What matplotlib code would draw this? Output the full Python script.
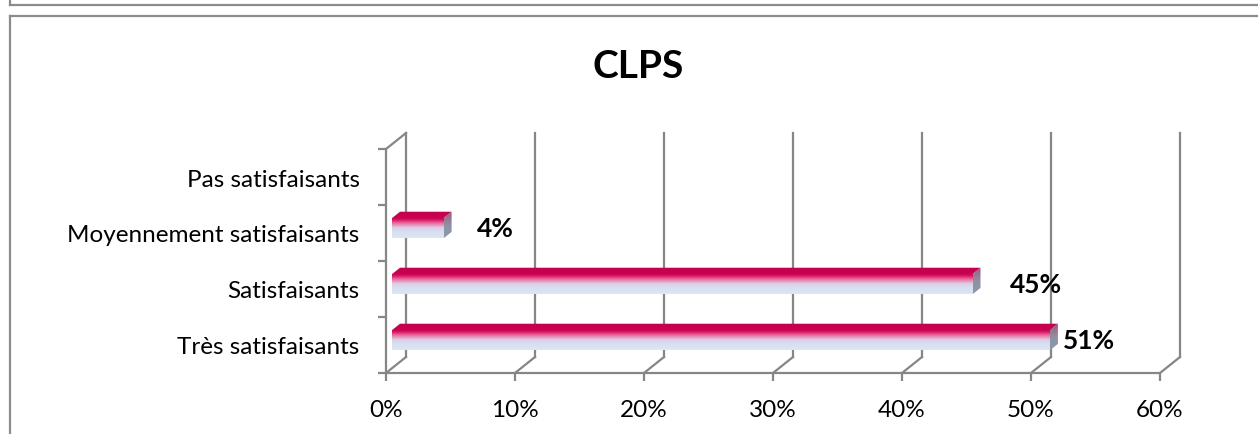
import numpy as np
import matplotlib
matplotlib.use("Agg")
import matplotlib.pyplot as plt
from matplotlib.colors import LinearSegmentedColormap
from matplotlib.patches import Polygon
from matplotlib.lines import Line2D

# ---------------- data ----------------
title = "CLPS"
categories = ["Très satisfaisants", "Satisfaisants", "Moyennement satisfaisants", "Pas satisfaisants"]
values = [51, 45, 4, 0]
value_labels = ["51%", "45%", "4%", ""]
xticks = [0, 10, 20, 30, 40, 50, 60]
xtick_labels = ["0%", "10%", "20%", "30%", "40%", "50%", "60%"]

# label offsets (pixels right of bar end) - style/position only
label_offsets_px = [5, 29, 25, 0]

# ---------------- figure ----------------
W, H, DPI = 1258, 435, 100
fig = plt.figure(figsize=(W / DPI, H / DPI), dpi=DPI)
fig.patch.set_facecolor("white")

FONT = "Lato"
GRID = "#868686"

# plot region (front plane), pixels from top-left
px_left, px_right = 386, 1160
px_top, px_bot = 150, 374
ax = fig.add_axes([px_left / W, 1 - px_bot / H, (px_right - px_left) / W, (px_bot - px_top) / H])
ax.set_facecolor("none")
XMAX = xticks[-1]
ax.set_xlim(0, XMAX)
ax.set_ylim(-0.5, len(categories) - 0.5)

# depth (3-D) offset in data units
depth_px_x, depth_px_y = 20, 16
DX = depth_px_x * XMAX / (px_right - px_left)
DY = depth_px_y * len(categories) / (px_bot - px_top)

ylo, yhi = -0.5, len(categories) - 0.5

# back wall: left edge and vertical gridlines
ax.plot([DX, DX], [ylo + DY, yhi + DY], color=GRID, lw=1.6, clip_on=False, zorder=1)
for xv in xticks[1:]:
    ax.plot([xv + DX, xv + DX], [ylo + DY, yhi + DY], color=GRID, lw=1.6, clip_on=False, zorder=1)
# floor diagonals
for xv in xticks:
    ax.plot([xv, xv + DX], [ylo, ylo + DY], color=GRID, lw=1.6, clip_on=False, zorder=1)
# top-left diagonal
ax.plot([0, DX], [yhi, yhi + DY], color=GRID, lw=1.6, clip_on=False, zorder=1)

# ---------------- bars ----------------
front_cmap = LinearSegmentedColormap.from_list(
    "front", [(0.0, "#C4004F"), (0.12, "#DA0F62"), (0.3, "#EB6FA0"),
              (0.5, "#DCCBE4"), (0.7, "#D7E0F1"), (1.0, "#DCE6F4")])
side_cmap = LinearSegmentedColormap.from_list(
    "side", [(0.0, "#9E4F73"), (0.25, "#98748F"), (0.55, "#8E93A6"), (1.0, "#8A98AA")])

f0, f1 = 0.3, 0.7          # bar front / back depth fractions
bar_h = 0.36
ypos = np.arange(len(categories)) + f0 * DY
bars = ax.barh(ypos, values, left=f0 * DX, height=bar_h, color="none", edgecolor="none", zorder=3)

grad = np.linspace(0, 1, 256).reshape(-1, 1)
bdx, bdy = (f1 - f0) * DX, (f1 - f0) * DY

for bar, v in zip(bars, values):
    if v <= 0:
        continue
    x0, y0 = bar.get_x(), bar.get_y()
    x1, y1 = x0 + bar.get_width(), y0 + bar.get_height()
    im = ax.imshow(grad, cmap=front_cmap, extent=[x0, x1, y0, y1], aspect="auto",
                   origin="upper", zorder=3, interpolation="bilinear")
    im.set_clip_path(bar)
    # top face
    top = Polygon([[x0, y1], [x1, y1], [x1 + bdx, y1 + bdy], [x0 + bdx, y1 + bdy]],
                  closed=True, facecolor="#C6004F", edgecolor="none", zorder=3)
    ax.add_patch(top)
    # side face
    side = Polygon([[x1, y0], [x1, y1], [x1 + bdx, y1 + bdy], [x1 + bdx, y0 + bdy]],
                   closed=True, facecolor="none", edgecolor="none", zorder=3)
    ax.add_patch(side)
    ims = ax.imshow(grad, cmap=side_cmap, extent=[x1, x1 + bdx, y0, y1 + bdy], aspect="auto",
                    origin="upper", zorder=3, interpolation="bilinear")
    ims.set_clip_path(side)

ax.set_xlim(0, XMAX)
ax.set_ylim(ylo, yhi)

# value labels
for bar, v, lab, off in zip(bars, values, value_labels, label_offsets_px):
    if v <= 0 or not lab:
        continue
    xe = bar.get_x() + bar.get_width() + bdx
    yc = bar.get_y() + bar.get_height() / 2
    ax.annotate(lab, xy=(xe, yc), xytext=(off * 0.72, 0), textcoords="offset points",
                ha="left", va="center", fontsize=19, fontweight="bold",
                family=FONT, color="black", zorder=5, annotation_clip=False)

# ---------------- axes styling ----------------
for s in ["top", "right"]:
    ax.spines[s].set_visible(False)
for s in ["left", "bottom"]:
    ax.spines[s].set_color(GRID)
    ax.spines[s].set_linewidth(1.6)
    ax.spines[s].set_zorder(2)

ax.set_xticks(xticks)
ax.set_xticklabels(xtick_labels, family=FONT, fontsize=17.5)
ax.tick_params(axis="x", direction="out", length=6, width=1.6, color=GRID, pad=12.5, labelcolor="black")

ax.set_yticks(np.arange(-0.5, len(categories), 1.0))
ax.set_yticklabels([])
ax.tick_params(axis="y", which="major", direction="out", length=6, width=1.6, color=GRID)
ax.set_yticks(np.arange(len(categories)), minor=True)
ax.set_yticklabels(categories, minor=True, family=FONT, fontsize=17.5)
ax.tick_params(axis="y", which="minor", length=0, pad=19, labelcolor="black")

# title
fig.text(638 / W, 1 - 67 / H, title, ha="center", va="center", fontsize=28,
         fontweight="bold", family=FONT, color="black")

# ---------------- frames ----------------
def fig_line(xs, ys, **kw):
    fig.add_artist(Line2D([x / W for x in xs], [1 - y / H for y in ys],
                          transform=fig.transFigure, color="#8C8C8C", **kw))

fig_line([10, W], [5.5, 5.5], lw=1.6)
fig_line([10, 10], [0, 5.5], lw=1.6)
fig_line([10, W], [16.5, 16.5], lw=1.6)
fig_line([10, 10], [16.5, H], lw=1.6)

fig.savefig("out.png", dpi=DPI, facecolor="white")
